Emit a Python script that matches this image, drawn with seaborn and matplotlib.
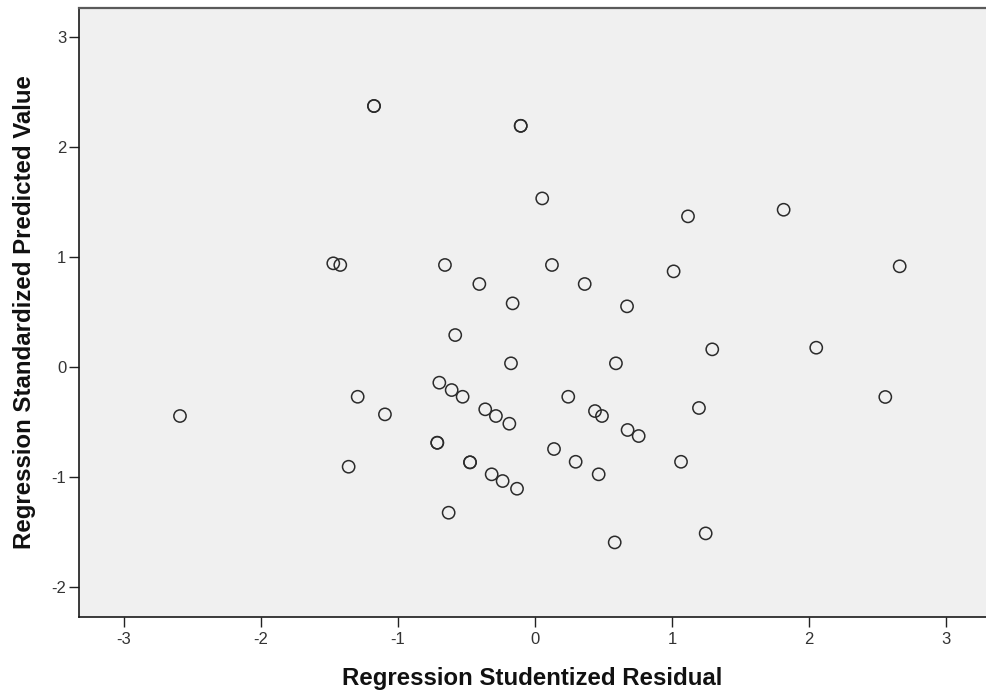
import matplotlib
matplotlib.use("Agg")
import matplotlib.pyplot as plt
import seaborn as sns
import pandas as pd

# Studentized residuals vs. standardized predicted values
# (repeated pairs are cases that fall on the same spot)
studentized_residual = [
    -1.175, -1.175, -0.104, -0.104, 0.053, 1.117, 1.815, 2.662,
    -1.472, -1.421, -0.657, -0.406, -0.582, 0.124, -0.163, 0.363,
    0.672, 1.012, 1.294, 2.053, 2.557, 1.197, -0.175, 0.591,
    -0.363, -0.285, -0.187, 0.243, 0.438, 0.489, 0.676, 0.757,
    0.139, 0.297, 0.465, 1.066, -0.316, -0.236, -0.131, 0.582,
    1.246, -2.591, -1.294, -1.095, -1.360, -0.698, -0.608, -0.528,
    -0.713, -0.713, -0.474, -0.474, -0.630,
]
standardized_predicted = [
    2.370, 2.370, 2.190, 2.190, 1.530, 1.367, 1.427, 0.913,
    0.940, 0.925, 0.925, 0.752, 0.288, 0.925, 0.576, 0.752,
    0.549, 0.867, 0.158, 0.173, -0.275, -0.375, 0.031, 0.031,
    -0.387, -0.448, -0.518, -0.273, -0.403, -0.448, -0.575, -0.630,
    -0.748, -0.864, -0.978, -0.864, -0.978, -1.039, -1.109, -1.597,
    -1.515, -0.448, -0.273, -0.433, -0.909, -0.145, -0.212, -0.273,
    -0.691, -0.691, -0.869, -0.869, -1.327,
]
x_ticks = [-3, -2, -1, 0, 1, 2, 3]
y_ticks = [-2, -1, 0, 1, 2, 3]

df = pd.DataFrame({
    "Regression Studentized Residual": studentized_residual,
    "Regression Standardized Predicted Value": standardized_predicted,
})

sns.set_style("white")
plt.rcParams["font.family"] = ["Liberation Sans", "DejaVu Sans"]

fig = plt.figure(figsize=(9.86, 6.96), dpi=100)
ax = fig.add_axes([79 / 986, 1 - 617 / 696, 907 / 986, 609 / 696])
ax.set_facecolor("#f0f0f0")

sns.scatterplot(
    data=df,
    x="Regression Studentized Residual",
    y="Regression Standardized Predicted Value",
    ax=ax,
    marker="o",
    s=78,
    facecolor="none",
    edgecolor="#2b2b2b",
    linewidth=1.1,
)

ax.set_xlim(-3.328, 3.292)
ax.set_ylim(-2.275, 3.261)
ax.set_xticks(x_ticks)
ax.set_yticks(y_ticks)
ax.set_xticklabels([str(v) for v in x_ticks])
ax.set_yticklabels([str(v) for v in y_ticks])

ax.tick_params(axis="both", which="major", direction="out", length=7.5,
               width=1.0, color="#222222", labelsize=12, labelcolor="#333333",
               bottom=True, left=True)
ax.tick_params(axis="x", pad=3.5)
ax.tick_params(axis="y", pad=1.5)

for side in ("left", "bottom"):
    ax.spines[side].set_color("#1a1a1a")
    ax.spines[side].set_linewidth(1.2)
ax.spines["top"].set_color("#5a5a5a")
ax.spines["top"].set_linewidth(1.6)
ax.spines["right"].set_visible(False)

ax.set_xlabel("Regression Studentized Residual", fontsize=17.3,
              fontweight="bold", color="#111111", labelpad=14)
ax.set_ylabel("Regression Standardized Predicted Value", fontsize=17.3,
              fontweight="bold", color="#111111", labelpad=11)

fig.savefig("out.png", dpi=100, facecolor="white")
